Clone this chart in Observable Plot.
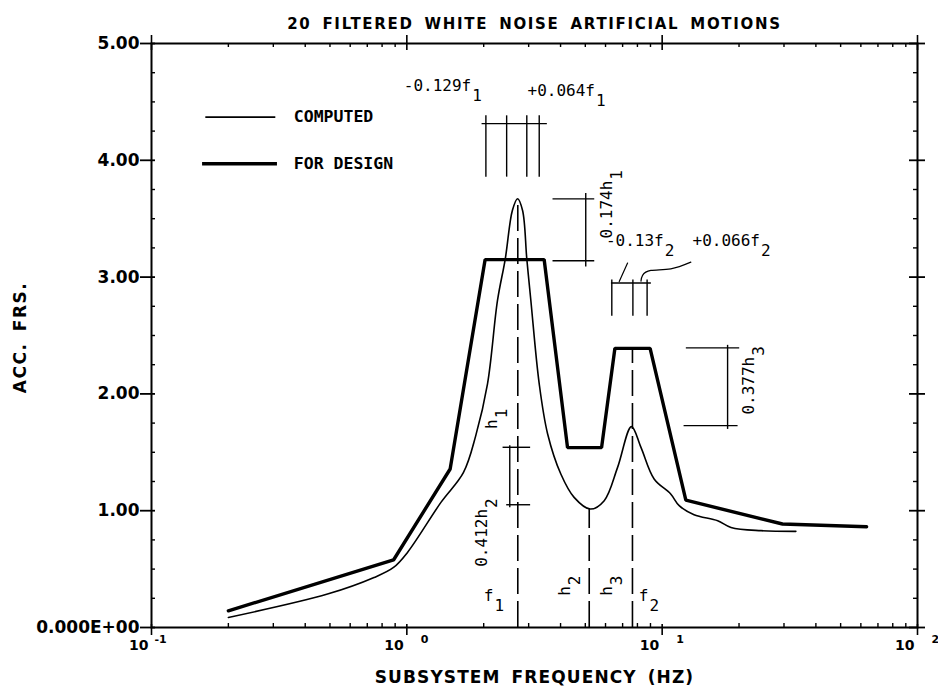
<!DOCTYPE html>
<html>
<head>
<meta charset="utf-8">
<script src="https://cdn.jsdelivr.net/npm/d3@7"></script>
<script src="https://cdn.jsdelivr.net/npm/@observablehq/plot@0.6"></script>
<style>
  body { margin: 0; background: #fff; }
</style>
</head>
<body>
<div id="chart"></div>
<script>
// Mean floor response spectrum from 20 filtered white-noise motions (thin curve)
const computedFreq = [0.2, 0.489, 0.744, 0.887, 1.006, 1.36, 1.667, 1.862, 2.07, 2.265, 2.43, 2.59, 2.714, 2.84, 2.95, 3.06, 3.30, 3.56, 4.01, 4.52, 5.23, 5.93, 6.69, 7.58, 8.26, 9.30, 10.8, 11.66, 13.33, 16.5, 18.6, 24.4, 33.4];
const computedAcc  = [0.086, 0.286, 0.428, 0.514, 0.643, 1.071, 1.328, 1.643, 2.086, 2.80, 3.157, 3.57, 3.671, 3.57, 3.157, 2.80, 2.086, 1.657, 1.314, 1.114, 1.014, 1.086, 1.371, 1.72, 1.542, 1.272, 1.143, 1.043, 0.966, 0.914, 0.857, 0.829, 0.823];

// Broadened spectrum for design (thick curve)
const designFreq = [0.2, 0.887, 1.478, 2.026, 3.45, 4.26, 5.79, 6.53, 8.97, 12.38, 29.6, 63.2];
const designAcc  = [0.143, 0.578, 1.357, 3.15, 3.15, 1.54, 1.54, 2.39, 2.39, 1.09, 0.886, 0.863];

// Axis ticks
const decades = [0.1, 1, 10, 100];
const decadeExp = ["-1", "0", "1", "2"];
const minorX = [0.1, 1, 10].flatMap(d => [2, 3, 4, 5, 6, 7, 8, 9].map(k => k * d));
const yMajor = [0, 1, 2, 3, 4, 5];
const yMajorLabels = ["0.000E+00", "1.00", "2.00", "3.00", "4.00", "5.00"];
const yMinor = d3.range(0.25, 5, 0.25).filter(v => v % 1 !== 0);

// Dashed markers: f1, h2 and f2
const markerFreq = [2.72, 5.18, 7.65];
const markerTop  = [3.65, 1.01, 2.39];

// Dimension brackets (x1, y1) -> (x2, y2)
const bracketX1 = [1.962, 2.04, 2.46, 2.95, 3.30, 3.72, 3.72, 5.02, 6.30, 6.35, 7.68, 8.73, 12.38, 12.13, 18.04, 2.371, 2.45, 2.53];
const bracketY1 = [4.314, 3.86, 3.86, 3.86, 3.86, 3.67, 3.14, 3.09, 2.95, 2.67, 2.67, 2.67, 2.394, 1.728, 1.70, 1.543, 1.051, 1.03];
const bracketX2 = [3.535, 2.04, 2.46, 2.95, 3.30, 5.42, 5.42, 5.02, 9.03, 6.35, 7.68, 8.73, 20.03, 19.74, 18.04, 3.04, 3.04, 2.53];
const bracketY2 = [4.314, 4.385, 4.385, 4.385, 4.385, 3.67, 3.14, 3.72, 2.95, 2.98, 2.98, 2.98, 2.394, 1.728, 2.42, 1.543, 1.051, 1.56];

// Leader lines from the f2 labels
const leaderA = {f: [7.32, 6.79], a: [3.12, 2.962]};
const leaderB = {f: [12.95, 10.81, 9.03, 8.38, 8.26], a: [3.128, 3.071, 3.057, 3.015, 2.966]};

// Annotation labels (main text + subscript)
const noteText   = ["-0.129f", "+0.064f", "0.174h", "-0.13f", "+0.066f", "0.377h", "0.412h", "h", "h", "h", "f", "f"];
const noteSub    = ["1", "1", "1", "2", "2", "3", "2", "1", "2", "3", "1", "2"];
const noteFreq   = [0.973, 2.97, 6.07, 6.02, 13.15, 21.86, 1.967, 2.153, 4.16, 6.07, 2.002, 8.10];
const noteAcc    = [4.641, 4.598, 3.331, 3.314, 3.314, 1.823, 0.520, 1.70, 0.271, 0.271, 0.272, 0.272];
const noteRotate = [0, 0, -90, 0, 0, -90, -90, -90, -90, -90, 0, 0];

// Legend
const legendLabels = ["COMPUTED", "FOR DESIGN"];
const legendAcc = [4.37, 3.971];

const title = "20 FILTERED WHITE NOISE ARTIFICIAL MOTIONS";
const xTitle = "SUBSYSTEM FREQUENCY (HZ)";
const yTitle = "ACC. FRS.";

const computed = computedFreq.map((f, i) => ({f, a: computedAcc[i]}));
const design = designFreq.map((f, i) => ({f, a: designAcc[i]}));
const markers = markerFreq.map((f, i) => ({f, top: markerTop[i]}));
const brackets = bracketX1.map((x1, i) => ({x1, y1: bracketY1[i], x2: bracketX2[i], y2: bracketY2[i]}));

const FW = 938 - 151 - 21;   // frame width
const FH = 696 - 43 - 69;    // frame height
const MONO = "DejaVu Sans Mono";
const SANS = "DejaVu Sans";
const NOTE_SIZE = 16;
const ADV = 0.602 * NOTE_SIZE;

function noteMarks(i) {
  const d = [{f: noteFreq[i], a: noteAcc[i]}];
  const rot = noteRotate[i];
  const len = noteText[i].length * ADV;
  const base = {x: "f", y: "a", fontFamily: MONO, fontSize: NOTE_SIZE, textAnchor: "start", fill: "#000"};
  return [
    Plot.text(d, {...base, text: () => noteText[i], rotate: rot}),
    Plot.text(d, {...base, text: () => noteSub[i], rotate: rot,
      dx: rot ? 10 : len + 1, dy: rot ? -(len + 1) : 10})
  ];
}

const chart = Plot.plot({
  width: 938,
  height: 696,
  marginTop: 43,
  marginRight: 21,
  marginBottom: 69,
  marginLeft: 151,
  style: {background: "#fff", color: "#000", fontFamily: SANS},
  x: {type: "log", domain: [0.1, 100], axis: null},
  y: {domain: [0, 5], axis: null},
  marks: [
    Plot.frame({stroke: "#000", strokeWidth: 2}),

    // bottom axis ticks
    Plot.tickX(decades, {x: d => d, insetTop: FH - 3, insetBottom: -8, strokeWidth: 1.6}),
    Plot.tickX(minorX, {x: d => d, insetTop: FH - 4, strokeWidth: 1.4}),
    // top axis ticks
    Plot.tickX(decades, {x: d => d, insetBottom: FH - 7, insetTop: -8, strokeWidth: 1.6}),
    Plot.tickX(minorX, {x: d => d, insetBottom: FH - 4, strokeWidth: 1.4}),
    // left axis ticks
    Plot.tickY(yMajor, {y: d => d, insetLeft: -11, insetRight: FW - 4, strokeWidth: 1.8}),
    Plot.tickY(yMinor, {y: d => d, insetRight: FW - 4, strokeWidth: 1.4}),
    // right axis ticks
    Plot.tickY(yMajor, {y: d => d, insetRight: -8, insetLeft: FW - 8, strokeWidth: 1.8}),
    Plot.tickY(yMinor, {y: d => d, insetLeft: FW - 4, strokeWidth: 1.4}),

    // tick labels
    Plot.text(yMajor, {frameAnchor: "left", y: d => d, text: (d, i) => yMajorLabels[i],
      textAnchor: "end", dx: -12, fontSize: 17, fontWeight: "bold", fontFamily: SANS}),
    Plot.text(decades, {x: d => d, frameAnchor: "bottom", text: () => "10",
      textAnchor: "end", dx: -3, dy: 22, fontSize: 14, fontWeight: "bold", fontFamily: SANS}),
    Plot.text(decades, {x: d => d, frameAnchor: "bottom", text: (d, i) => decadeExp[i],
      filter: (d, i) => i === 0, textAnchor: "start", dx: 3, dy: 15, fontSize: 11, fontWeight: "bold", fontFamily: SANS}),
    Plot.text(decades, {x: d => d, frameAnchor: "bottom", text: (d, i) => decadeExp[i],
      filter: (d, i) => i > 0, textAnchor: "start", dx: 14, dy: 15, fontSize: 11, fontWeight: "bold", fontFamily: SANS}),

    // titles
    Plot.text([title], {frameAnchor: "top", textAnchor: "middle", dy: -25, fontSize: 15, fontWeight: "bold", fontFamily: SANS}),
    Plot.text([xTitle], {frameAnchor: "bottom", textAnchor: "middle", dy: 55, fontSize: 17, fontWeight: "bold", fontFamily: SANS}),
    Plot.text([yTitle], {frameAnchor: "left", textAnchor: "middle", dx: -131, dy: 2, rotate: -90, fontSize: 17, fontWeight: "bold", fontFamily: SANS}),

    // dashed reference lines
    Plot.ruleX(markers, {x: "f", y1: 0, y2: "top", stroke: "#000", strokeWidth: 1.6, strokeDasharray: "26,7"}),

    // brackets and leaders
    Plot.link(brackets, {x1: "x1", y1: "y1", x2: "x2", y2: "y2", stroke: "#000", strokeWidth: 1.4}),
    Plot.line(leaderA.f.map((f, i) => ({f, a: leaderA.a[i]})), {x: "f", y: "a", stroke: "#000", strokeWidth: 1.2}),
    Plot.line(leaderB.f.map((f, i) => ({f, a: leaderB.a[i]})), {x: "f", y: "a", curve: "natural", stroke: "#000", strokeWidth: 1.2}),

    // spectra
    Plot.line(computed, {x: "f", y: "a", curve: "catmull-rom", stroke: "#000", strokeWidth: 1.6}),
    Plot.line(design, {x: "f", y: "a", stroke: "#000", strokeWidth: 3.4, strokeLinejoin: "miter"}),

    // annotation labels
    ...noteText.flatMap((t, i) => noteMarks(i)),

    // legend
    Plot.ruleY([legendAcc[0]], {y: d => d, x1: 0.1632, x2: 0.3068, stroke: "#000", strokeWidth: 1.6}),
    Plot.ruleY([legendAcc[1]], {y: d => d, x1: 0.1585, x2: 0.3114, stroke: "#000", strokeWidth: 3.4}),
    Plot.text(legendLabels, {x: 0.3609, y: (d, i) => legendAcc[i], text: d => d, textAnchor: "start",
      fontFamily: MONO, fontWeight: "bold", fontSize: 16.5})
  ]
});

// wide tracking on the headings, as typeset
const tracking = {[title]: ["1.7px", "4px"], [xTitle]: ["1.1px", "4px"], [yTitle]: ["1.5px", "4px"]};
d3.select(chart).selectAll("text")
  .filter(function() { return this.textContent in tracking; })
  .each(function() {
    const [ls, ws] = tracking[this.textContent];
    d3.select(this).style("letter-spacing", ls).style("word-spacing", ws);
  });

document.getElementById("chart").append(chart);
</script>
</body>
</html>
